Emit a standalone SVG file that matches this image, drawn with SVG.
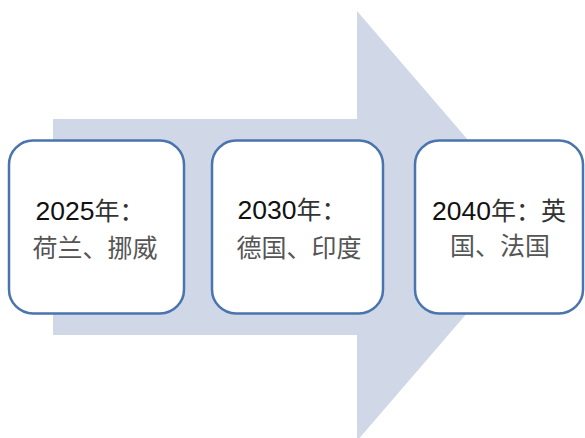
<svg xmlns="http://www.w3.org/2000/svg" width="585" height="438" viewBox="0 0 585 438">
<style>
.box{fill:#ffffff;stroke:#4a74ad;stroke-width:2.5}
.t{font-family:"Liberation Sans","Noto Sans CJK SC",sans-serif;font-size:26.5px;fill:#111;text-anchor:middle}
.c{font-family:"Noto Sans CJK SC",sans-serif;font-size:25px;fill:#555;text-anchor:middle}
.cj{font-family:"Noto Sans CJK SC",sans-serif;font-size:25px;fill:#333}
</style>
<g id="arrow">
<path d="M53,119 H357 V11 L542,226 L357,441 V335 H53 Z" fill="#d0d8e8"/>
</g>
<g id="connectors"></g>
<g id="node1">
<rect class="box" x="9" y="140.5" width="175" height="173" rx="24"/>
<text class="t" x="90" y="220">2025<tspan class="cj">年：</tspan></text>
<text class="c" x="95" y="257">荷兰、挪威</text>
</g>
<g id="node2">
<rect class="box" x="212" y="140.5" width="171" height="173" rx="24"/>
<text class="t" x="292" y="219">2030<tspan class="cj">年：</tspan></text>
<text class="c" x="299" y="257">德国、印度</text>
</g>
<g id="node3">
<rect class="box" x="415" y="140.5" width="168" height="173" rx="24"/>
<text class="t" x="499" y="220">2040<tspan class="cj">年：英</tspan></text>
<text class="c" x="500" y="255">国、法国</text>
</g>
</svg>
